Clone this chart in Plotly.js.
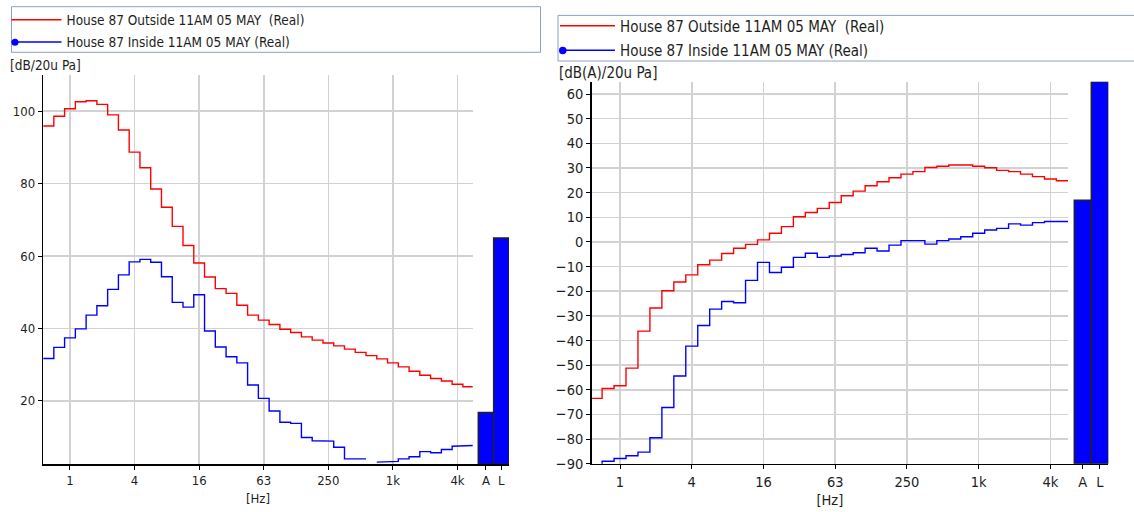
<!DOCTYPE html>
<html><head><meta charset="utf-8">
<script src="https://cdn.plot.ly/plotly-3.0.1.min.js"></script>
<style>html,body{margin:0;padding:0;background:#fff}#chart{width:1134px;height:512px}</style>
</head><body><div id="chart"></div>
<script>
// 1/3-octave band labels
const bands = ['0.63','0.8','1','1.25','1.6','2','2.5','3.15','4','5','6.3','8','10','12.5','16','20','25','31.5','40','50','63','80','100','125','160','200','250','315','400','500','630','800','1k','1.25k','1.6k','2k','2.5k','3.15k','4k','5k'];
// Left panel, linear dB
const outsideLin = [95.9,98.6,100.7,102.6,102.9,101.9,99.0,94.8,88.7,84.4,78.5,73.5,68.2,62.9,58.1,54.2,51.0,49.7,46.4,43.7,42.3,41.1,39.8,38.9,37.7,36.8,36.0,35.2,34.3,33.4,32.5,31.6,30.5,29.4,28.2,27.1,26.2,25.5,24.6,23.9];
const insideLin = [31.7,34.8,37.4,39.9,43.7,46.3,50.8,54.8,58.4,59.1,58.3,54.3,47.2,45.9,49.3,39.3,34.9,32.2,30.5,24.4,20.7,17.2,14.1,13.8,9.9,9.0,8.9,7.2,4.0,4.0,null,3.1,3.3,4.0,4.6,6.0,5.7,6.6,7.5,7.7];
// Right panel, A-weighted dB
const outsideA = [-63.5,-59.5,-58.4,-51.2,-36.2,-26.8,-19.8,-16.3,-13.4,-9.3,-7.4,-4.7,-2.6,-1.0,0.8,3.5,6.2,10.2,11.9,13.6,16.0,18.7,20.6,22.8,24.4,26.0,27.5,28.5,30.2,30.7,31.2,31.2,30.7,30.1,29.0,28.5,27.5,26.5,25.5,24.8];
const insideA = [-95,-89.0,-87.9,-86.8,-85.3,-79.5,-67.2,-54.4,-42.3,-33.9,-27.3,-24.2,-24.7,-15.6,-8.3,-12.4,-10.3,-6.3,-4.6,-6.3,-5.7,-5.1,-4.4,-2.6,-3.7,-1.3,0.5,0.5,-0.9,0.5,1.2,2.1,3.5,4.8,5.5,7.3,6.8,7.8,8.3,8.3];
// Overall levels
const overallLabels = ['A','L'];
const overallLin = [16.8, 65];
const overallA = [16.9, 65];
// Tick labels
const hzTickVals = [1,4,16,64,256,1024,4096];
const hzTickText = ['1','4','16','63','250','1k','4k'];
const linTicks = [20,40,60,80,100];
const aTicks = [-90,-80,-70,-60,-50,-40,-30,-20,-10,0,10,20,30,40,50,60];
const seriesNames = ['House 87 Outside 11AM 05 MAY  (Real)','House 87 Inside 11AM 05 MAY (Real)'];
const rangeLin = [2.5,110], rangeA = [-90,65];

// step path over the band edges (band i centre = 2^((i-2)/3) Hz)
function steps(vals){
  const x=[],y=[];
  vals.forEach((v,i)=>{
    const f=Math.pow(2,(i-2)/3);
    x.push(f*Math.pow(2,-1/6), f*Math.pow(2,1/6));
    y.push(v,v);
  });
  return {x,y};
}
const FONT = '"DejaVu Sans Condensed","DejaVu Sans",sans-serif';
const RED='#ff0000', BLUE='#0000ff', TXT='#1e1e1e';
const L2 = Math.log10(2);
const W=1134,H=512;
const px=v=>v/W, py=v=>(H-v)/H;

const sOL=steps(outsideLin), sIL=steps(insideLin), sOA=steps(outsideA), sIA=steps(insideA);
// bars rise from the bottom of the value axis
const barLen=(vals,floor)=>vals.map(v=>v-floor);
const traces = [
  {x:sOL.x,y:sOL.y,xaxis:'x',yaxis:'y',mode:'lines',name:seriesNames[0],line:{color:RED,width:1.4},legend:'legend',hoverinfo:'skip'},
  {x:sIL.x,y:sIL.y,xaxis:'x',yaxis:'y',mode:'lines',name:seriesNames[1],line:{color:BLUE,width:1.4},legend:'legend2',hoverinfo:'skip'},
  {type:'bar',x:overallLabels,y:barLen(overallLin,rangeLin[0]),base:rangeLin[0],xaxis:'x2',yaxis:'y2',width:1,showlegend:false,marker:{color:BLUE,line:{color:'#222',width:1.5}}},
  {x:sOA.x,y:sOA.y,xaxis:'x3',yaxis:'y3',mode:'lines',name:seriesNames[0],line:{color:RED,width:1.4},legend:'legend3',hoverinfo:'skip'},
  {x:sIA.x,y:sIA.y,xaxis:'x3',yaxis:'y3',mode:'lines',name:seriesNames[1],line:{color:BLUE,width:1.4},legend:'legend4',hoverinfo:'skip'},
  {type:'bar',x:overallLabels,y:barLen(overallA,rangeA[0]),base:rangeA[0],xaxis:'x4',yaxis:'y4',width:1,showlegend:false,marker:{color:BLUE,line:{color:'#222',width:1.5}}}
];

function logAxis(domain, range, anchor, fs){
  return {type:'log',domain:domain,range:range,anchor:anchor,tickmode:'array',tickvals:hzTickVals,ticktext:hzTickText,
    showgrid:true,gridcolor:'#d2d2d2',gridwidth:1.5,showline:true,linecolor:'#000',linewidth:1.5,
    ticks:'outside',ticklen:4,tickcolor:'#000',tickfont:{size:fs,color:TXT},zeroline:false,
    title:{text:'[Hz]',font:{size:fs,color:TXT},standoff:6},automargin:false,fixedrange:true};
}
function valAxis(domain, range, anchor, ticks, fs){
  return {domain:domain,range:range,anchor:anchor,tickmode:'array',tickvals:ticks,
    showgrid:true,gridcolor:'#d2d2d2',gridwidth:1.5,showline:true,linecolor:'#000',linewidth:1.5,
    ticks:'outside',ticklen:4,tickcolor:'#000',tickfont:{size:fs,color:TXT},zeroline:false,automargin:false,fixedrange:true};
}
function barX(domain, range, anchor, fs){
  return {type:'category',domain:domain,range:range,anchor:anchor,tickmode:'array',tickvals:overallLabels,ticktext:overallLabels,
    showgrid:false,showline:true,linecolor:'#000',linewidth:1.5,
    ticks:'outside',ticklen:4,tickcolor:'#000',tickfont:{size:fs,color:TXT},zeroline:false,automargin:false,fixedrange:true};
}
function barY(domain, range, anchor){
  return {domain:domain,range:range,anchor:anchor,visible:false,showgrid:false,zeroline:false,fixedrange:true};
}
function leg(x, yc, fs, iw){
  return {x:px(x),xanchor:'left',y:py(yc),yanchor:'middle',orientation:'v',bgcolor:'rgba(0,0,0,0)',borderwidth:0,
    font:{size:fs,color:TXT},itemwidth:iw};
}
const yL=[py(464.3),py(75)], yR=[py(463.7),py(81.7)];
const layout = {
  width:W,height:H,margin:{l:0,r:0,t:0,b:0,autoexpand:false},paper_bgcolor:'#fff',plot_bgcolor:'#fff',
  font:{family:FONT,color:TXT,size:13},showlegend:true,bargap:0,
  xaxis: logAxis([px(43.3),px(472.7)],[-0.826*L2,12.47*L2],'y',13),
  yaxis: valAxis(yL,rangeLin,'x',linTicks,13),
  xaxis2: barX([px(472.7),px(509)],[-0.865,1.5],'y2',13),
  yaxis2: barY(yL,rangeLin,'x2'),
  xaxis3: logAxis([px(591.7),px(1068)],[-0.79*L2,12.49*L2],'y3',14.5),
  yaxis3: valAxis(yR,rangeA,'x3',aTicks,14.5),
  xaxis4: barX([px(1068),px(1108.3)],[-0.87,1.5],'y4',14.5),
  yaxis4: barY(yR,rangeA,'x4'),
  legend: leg(6.5,20,13.5,50),
  legend2: leg(6.5,42.3,13.5,50),
  legend3: leg(555,26,15,55),
  legend4: leg(555,50.5,15,55),
  shapes:[
    {type:'rect',xref:'paper',yref:'paper',x0:px(11.5),x1:px(540.5),y0:py(6.7),y1:py(52.3),line:{color:'#8fa2bd',width:1},fillcolor:'rgba(0,0,0,0)',layer:'below'},
    {type:'rect',xref:'paper',yref:'paper',x0:px(558),x1:px(1140),y0:py(15.4),y1:py(61),line:{color:'#8fa2bd',width:1},fillcolor:'rgba(0,0,0,0)',layer:'below'},
    {type:'circle',xref:'paper',yref:'paper',x0:px(11.5),x1:px(18.5),y0:py(38.8),y1:py(45.8),line:{color:BLUE,width:0},fillcolor:BLUE,layer:'above'},
    {type:'circle',xref:'paper',yref:'paper',x0:px(559),x1:px(566.5),y0:py(46.8),y1:py(54.3),line:{color:BLUE,width:0},fillcolor:BLUE,layer:'above'}
  ],
  annotations:[
    {text:'[dB/20u Pa]',xref:'paper',yref:'paper',x:px(8),y:py(65),xanchor:'left',yanchor:'middle',showarrow:false,font:{size:13.5,color:TXT}},
    {text:'[dB(A)/20u Pa]',xref:'paper',yref:'paper',x:px(557),y:py(72.7),xanchor:'left',yanchor:'middle',showarrow:false,font:{size:15,color:TXT}}
  ]
};
Plotly.newPlot('chart',traces,layout,{staticPlot:true,displayModeBar:false});
</script></body></html>
